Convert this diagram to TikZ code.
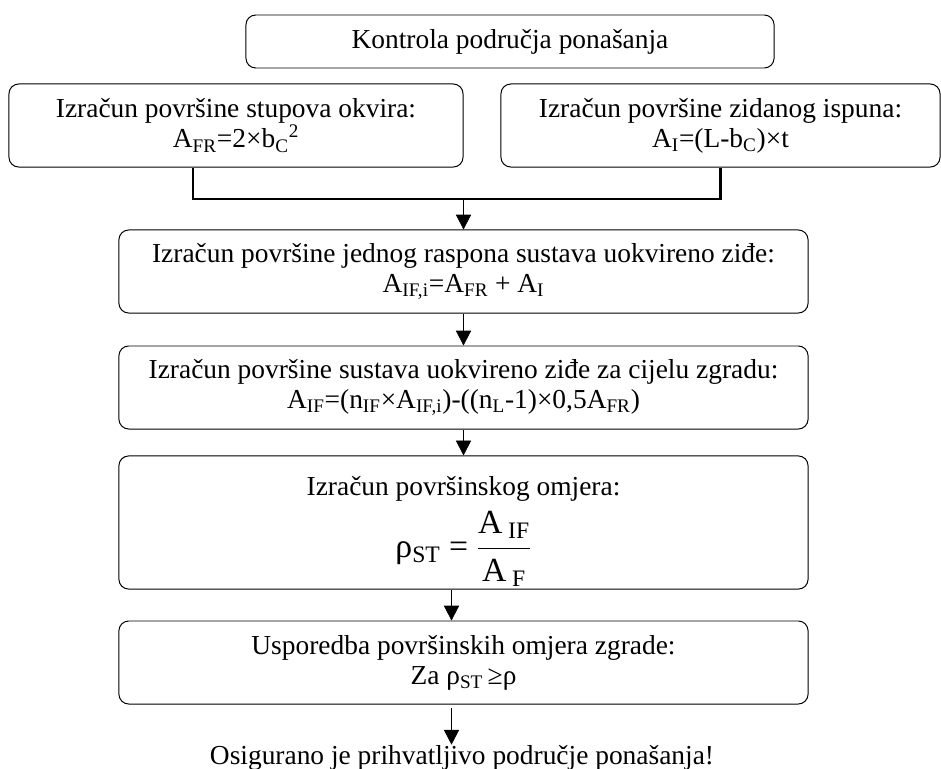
\documentclass[tikz,border=0pt]{standalone}
\usepackage{fontspec}
\setmainfont{Liberation Serif}
\usetikzlibrary{arrows.meta}
\tikzset{
  flow box/.style={
    draw=black, fill=white, rounded corners=7pt, line width=0.7pt,
    align=center, inner sep=2pt,
    minimum width=17.225cm, minimum height=2.075cm,
    font=\fontsize{19.5}{21.5}\selectfont
  },
  flow arrow/.style={
    draw=black, line width=0.5pt,
    -{Triangle[length=3.7mm,width=3.8mm]}
  },
  join line/.style={
    draw=black, line width=1.6pt
  },
  end text/.style={
    inner sep=0pt, font=\fontsize{19.5}{21.5}\selectfont
  }
}

\begin{document}
\begin{tikzpicture}[x=0.025cm,y=-0.025cm]
  \useasboundingbox (0,0) rectangle (941,769);

  % Starting box and the two area calculations below it.
  \node[flow box, minimum width=13.2cm, minimum height=1.325cm] (ctrl) at (510,41.5)
    {Kontrola područja ponašanja};
  \node[flow box, minimum width=11.35cm] (afr) at (236,125.5)
    {Izračun površine stupova okvira:\\
     A\textsubscript{FR}=2×b\textsubscript{C}\textsuperscript{2}};
  \node[flow box, minimum width=10.975cm] (ai) at (720.5,125.5)
    {Izračun površine zidanog ispuna:\\
     A\textsubscript{I}=(L-b\textsubscript{C})×t};

  % Main column, one box per step.
  \node[flow box] (aifi) at (463.5,271.5)
    {Izračun površine jednog raspona sustava uokvireno ziđe:\\
     A\textsubscript{IF,i}=A\textsubscript{FR} + A\textsubscript{I}};
  \node[flow box] (aif) at (463.5,387.5)
    {Izračun površine sustava uokvireno ziđe za cijelu zgradu:\\
     A\textsubscript{IF}=(n\textsubscript{IF}×A\textsubscript{IF,i})-((n\textsubscript{L}-1)×0,5A\textsubscript{FR})};
  % the strut keeps the formula low in the taller box
  \node[flow box, minimum height=3.225cm] (rho) at (463.5,522.5)
    {\rule{0pt}{26pt}Izračun površinskog omjera:\\[6pt]
     {\fontsize{24}{28}\selectfont ρ\textsubscript{ST} =
      $\displaystyle\frac{\mbox{A\,\textsubscript{IF}}}{\mbox{A\,\textsubscript{F}}}$}};
  \node[flow box] (usp) at (463.5,662.5)
    {Usporedba površinskih omjera zgrade:\\
     Za ρ\textsubscript{ST}\,≥ρ};
  \node[end text, anchor=base] (res) at (462,764)
    {Osigurano je prihvatljivo područje ponašanja!};

  % The two upper results meet on one line before going down.
  \coordinate (jn) at (463.5,199);
  \draw[join line] ([xshift=-1.075cm]afr.south) |- (jn) -| (ai.south);
  \draw[flow arrow] (jn) -- (aifi.north);

  \draw[flow arrow] (aifi.south) -- (aif.north);
  \draw[flow arrow] (aif.south) -- (rho.north);
  \draw[flow arrow] ([xshift=-0.3cm]rho.south) -- ([xshift=-0.3cm]usp.north);
  \draw[flow arrow, shorten <=2.8pt] ([xshift=-0.3cm]usp.south)
    -- ([xshift=-0.3cm]usp.south |- res.north);
\end{tikzpicture}
\end{document}
